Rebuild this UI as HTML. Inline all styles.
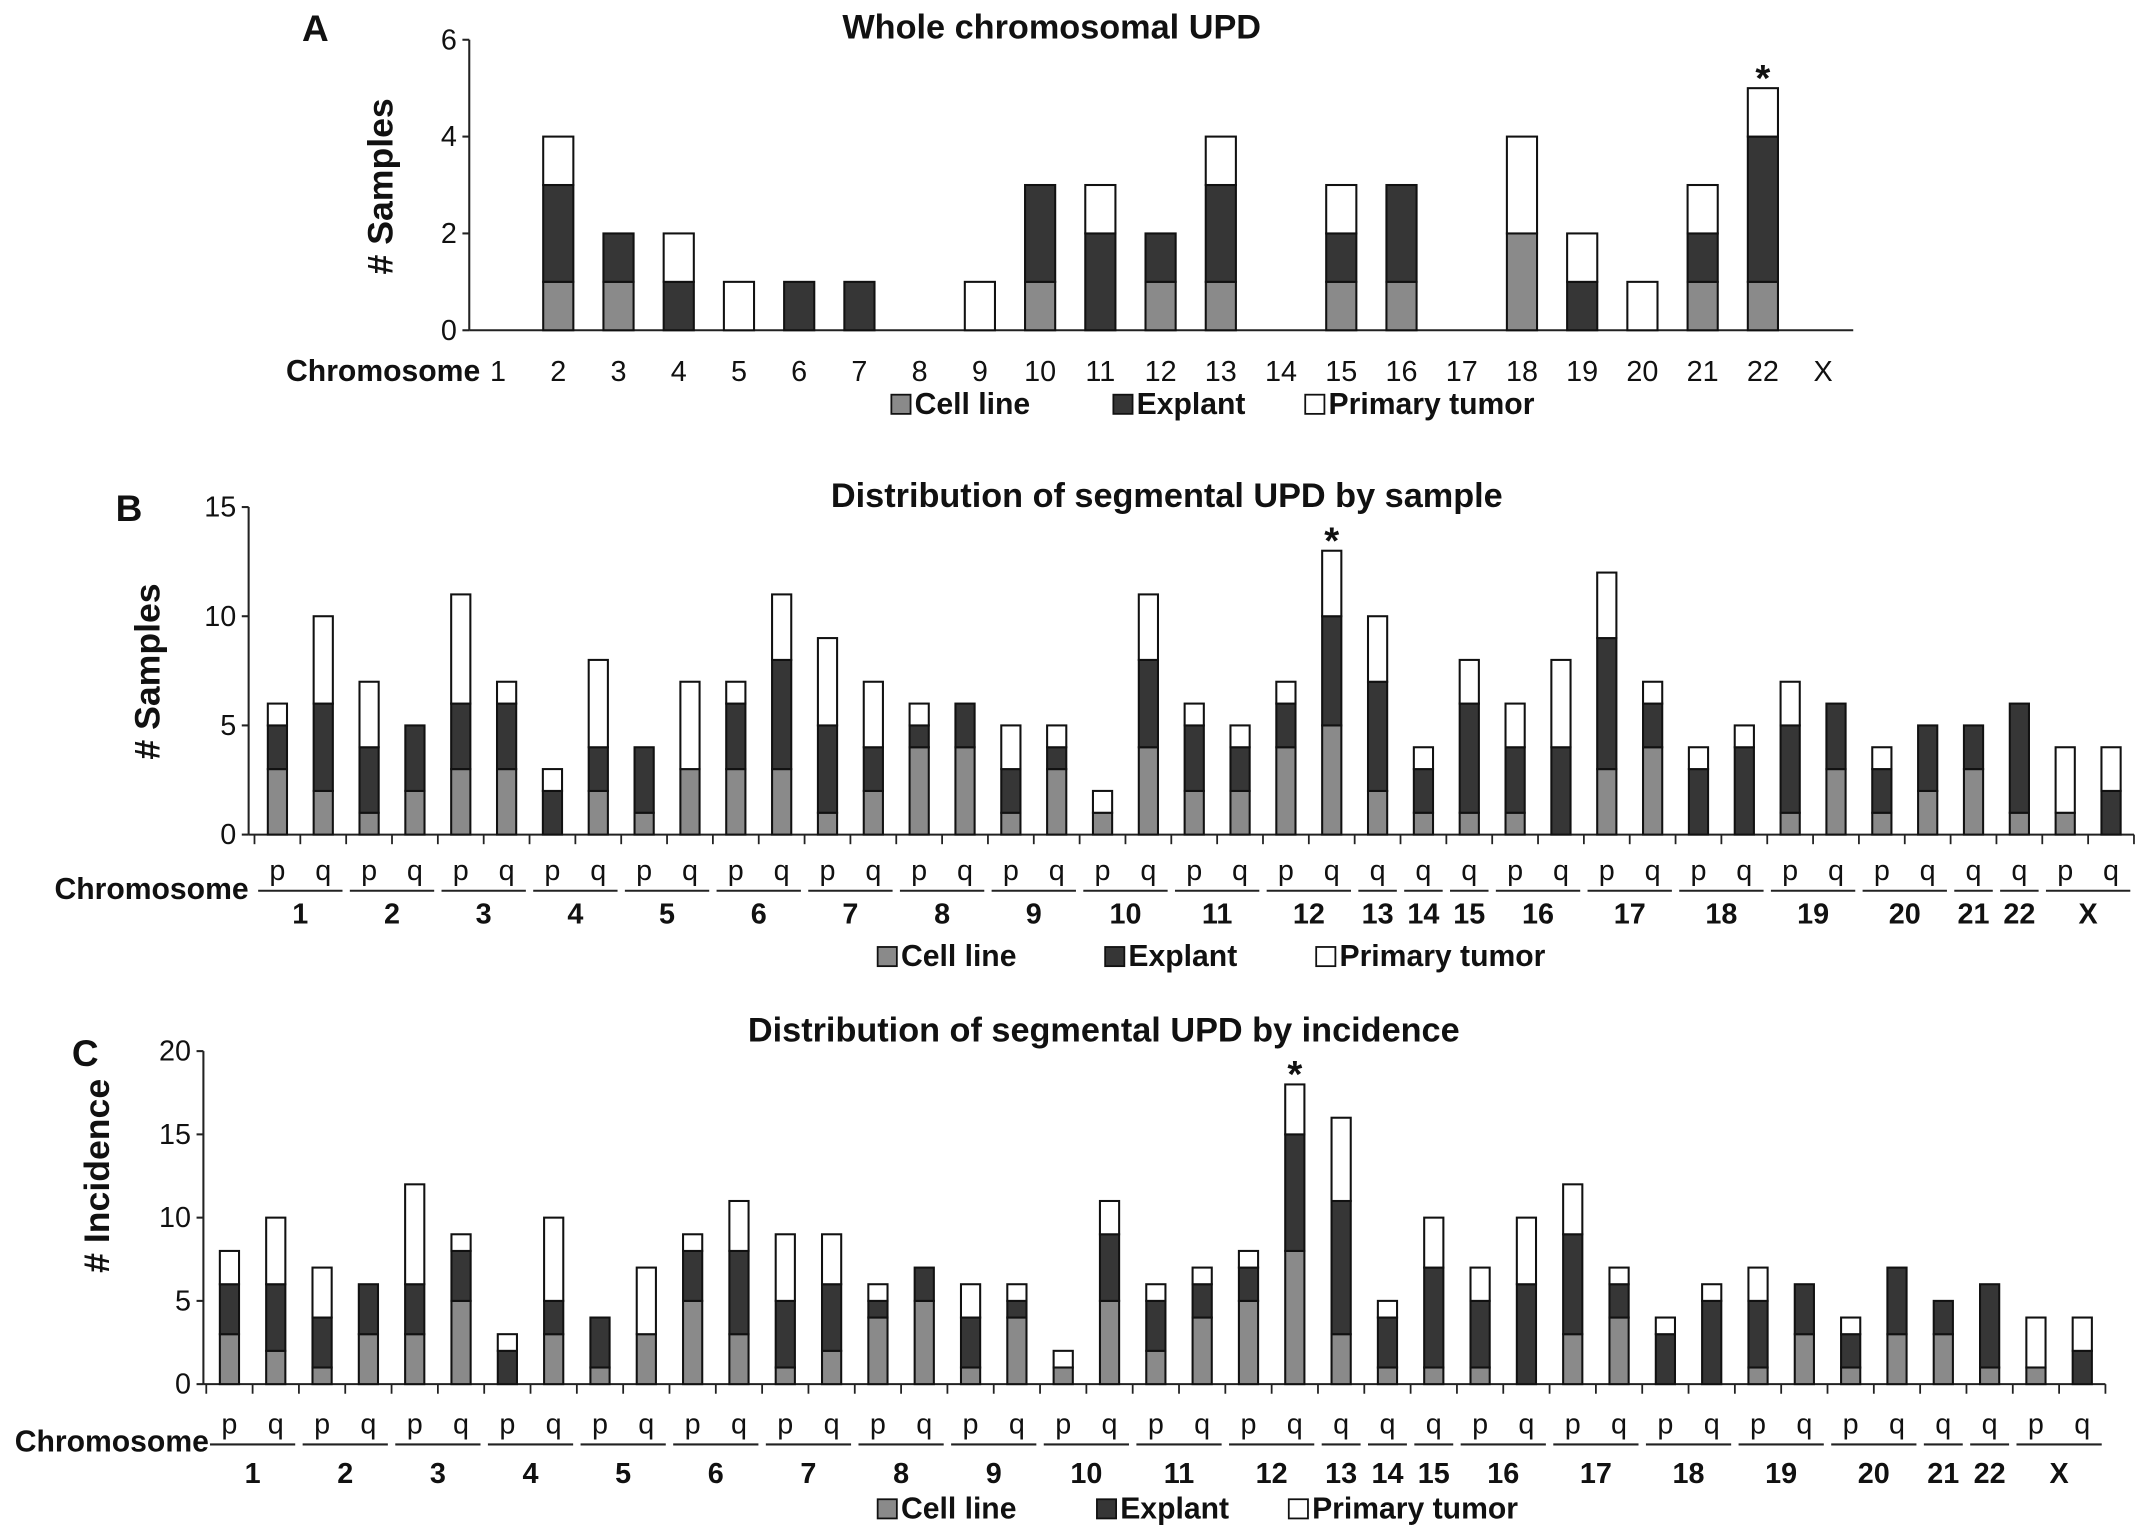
<!DOCTYPE html>
<html><head><meta charset="utf-8"><style>
html,body{margin:0;padding:0;background:#fff}
svg{display:block}
text{font-family:"Liberation Sans",Arial,sans-serif;fill:#111}
</style></head><body>
<svg id="fig" width="2150" height="1539" viewBox="0 0 1568 1123" xmlns="http://www.w3.org/2000/svg"></svg>
<script>
// Panel A data
const aCats = ["1","2","3","4","5","6","7","8","9","10","11","12","13","14","15","16","17","18","19","20","21","22","X"];
const aCell =    [0,1,1,0,0,0,0,0,0,1,0,1,1,0,1,1,0,2,0,0,1,1,0];
const aExplant = [0,2,1,1,0,1,1,0,0,2,2,1,2,0,1,2,0,0,1,0,1,3,0];
const aPrimary = [0,1,0,1,1,0,0,0,1,0,1,0,1,0,1,0,0,2,1,1,1,1,0];
const aTicks = [0,2,4,6];

// Segmental categories (shared by B and C)
const segChr = ["1","1","2","2","3","3","4","4","5","5","6","6","7","7","8","8","9","9","10","10","11","11","12","12","13","14","15","16","16","17","17","18","18","19","19","20","20","21","22","X","X"];
const segArm = ["p","q","p","q","p","q","p","q","p","q","p","q","p","q","p","q","p","q","p","q","p","q","p","q","q","q","q","p","q","p","q","p","q","p","q","p","q","q","q","p","q"];

// Panel B data
const bCell =    [3,2,1,2,3,3,0,2,1,3,3,3,1,2,4,4,1,3,1,4,2,2,4,5,2,1,1,1,0,3,4,0,0,1,3,1,2,3,1,1,0];
const bExplant = [2,4,3,3,3,3,2,2,3,0,3,5,4,2,1,2,2,1,0,4,3,2,2,5,5,2,5,3,4,6,2,3,4,4,3,2,3,2,5,0,2];
const bPrimary = [1,4,3,0,5,1,1,4,0,4,1,3,4,3,1,0,2,1,1,3,1,1,1,3,3,1,2,2,4,3,1,1,1,2,0,1,0,0,0,3,2];
const bTicks = [0,5,10,15];

// Panel C data
const cCell =    [3,2,1,3,3,5,0,3,1,3,5,3,1,2,4,5,1,4,1,5,2,4,5,8,3,1,1,1,0,3,4,0,0,1,3,1,3,3,1,1,0];
const cExplant = [3,4,3,3,3,3,2,2,3,0,3,5,4,4,1,2,3,1,0,4,3,2,2,7,8,3,6,4,6,6,2,3,5,4,3,2,4,2,5,0,2];
const cPrimary = [2,4,3,0,6,1,1,5,0,4,1,3,4,3,1,0,2,1,1,2,1,1,1,3,5,1,3,2,4,3,1,1,1,2,0,1,0,0,0,3,2];
const cTicks = [0,5,10,15,20];

const NS = "http://www.w3.org/2000/svg";
const svg = document.getElementById("fig");
const COL = {cell:"#8a8a8a", exp:"#363636", prim:"#ffffff"};

function mk(tag, attrs, parent, txt){
  const e = document.createElementNS(NS, tag);
  for (const k in attrs) e.setAttribute(k, attrs[k]);
  if (txt !== undefined) e.textContent = txt;
  (parent||svg).appendChild(e);
  return e;
}

function panel(cfg, cats, arms, cell, exp, prim, ticks){
  const g = mk("g", {});
  
  
  const yS = v => cfg.y0 - v * (cfg.y0 - cfg.yTop) / (ticks[ticks.length-1]);
  const xS = i => cfg.x1 + i * cfg.step;
  const n = cats.length;
  const t = mk("text", {x:cfg.titleX, y:cfg.titleY, "text-anchor":"middle", "font-size":25, "font-weight":"bold"}, g, cfg.title);
  
  
  const L = mk("text", {x:cfg.letX, y:cfg.letY, "font-size":27, "font-weight":"bold"}, g, cfg.letter);
  
  
  const yt = mk("text", {x:cfg.ytX, y:cfg.ytY, "text-anchor":"middle", "font-size":26, "font-weight":"bold", transform:`rotate(-90 ${cfg.ytX} ${cfg.ytY})`}, g, cfg.yTitle);
  
  
  const ya = mk("line", {x1:cfg.ax, x2:cfg.ax, y1:yS(ticks[ticks.length-1]), y2:cfg.y0, stroke:"#222", "stroke-width":1.5}, g);
  
  
  ticks.forEach(v=>{
    mk("line", {x1:cfg.ax-5, x2:cfg.ax, y1:yS(v), y2:yS(v), stroke:"#222", "stroke-width":1.5}, g);
    const tl = mk("text", {x:cfg.ax-9, y:yS(v)+7, "text-anchor":"end", "font-size":21}, g, String(v));
    
    
  });
  const xEnd = xS(n-1) + cfg.step/2;
  const xa = mk("line", {x1:cfg.ax, x2:xEnd, y1:cfg.y0, y2:cfg.y0, stroke:"#222", "stroke-width":1.5}, g);
  
  
  if (cfg.xticks){
    for (let i=0;i<=n;i++){
      const x = xS(i) - cfg.step/2;
      mk("line", {x1:x, x2:x, y1:cfg.y0, y2:cfg.y0+7, stroke:"#222", "stroke-width":1.3}, g);
    }
  }
  for (let i=0;i<n;i++){
    const x = xS(i) - cfg.bw/2;
    const segs = [[cell[i],COL.cell,'cell-line'],[exp[i],COL.exp,'explant'],[prim[i],COL.prim,'primary-tumor']];
    let base = 0;
    segs.forEach(s=>{
      if (s[0] > 0){
        const r = mk("rect", {x:x, y:yS(base+s[0]), width:cfg.bw, height:yS(base)-yS(base+s[0]), fill:s[1], stroke:"#111", "stroke-width":1.5}, g);
        
        
      }
      base += s[0];
    });
    if (cfg.star === i){
      const st = mk("text", {x:xS(i), y:yS(base)+2, "text-anchor":"middle", "font-size":28, "font-weight":"bold"}, g, "*");
      
      
    }
  }
  const cl = mk("text", {x:cfg.chrX, y:cfg.chrY, "text-anchor":"end", "font-size":22, "font-weight":"bold"}, g, "Chromosome");
  
  
  if (!arms){
    for (let i=0;i<n;i++){
      const lb = mk("text", {x:xS(i), y:cfg.chrY, "text-anchor":"middle", "font-size":21}, g, cats[i]);
      
      
    }
  } else {
    for (let i=0;i<n;i++){
      const lb = mk("text", {x:xS(i), y:cfg.armY, "text-anchor":"middle", "font-size":21}, g, arms[i]);
      
      
    }
    let i=0;
    while (i<n){
      let j=i; while (j+1<n && cats[j+1]===cats[i]) j++;
      const xa1 = xS(i) - cfg.step*0.42, xa2 = xS(j) + cfg.step*0.42;
      mk("line", {x1:xa1, x2:xa2, y1:cfg.ulY, y2:cfg.ulY, stroke:"#222", "stroke-width":1.5}, g);
      const nl = mk("text", {x:(xS(i)+xS(j))/2, y:cfg.numY, "text-anchor":"middle", "font-size":21, "font-weight":"bold"}, g, cats[i]);
      
      
      i=j+1;
    }
  }
  const lg = mk("g", {}, g);
  
  
  [[COL.cell,"Cell line"],[COL.exp,"Explant"],[COL.prim,"Primary tumor"]].forEach((e,k)=>{
    const x = cfg.leg[k];
    mk("rect", {x:x, y:cfg.legY-14, width:14, height:14, fill:e[0], stroke:"#111", "stroke-width":1.3}, lg);
    const lt = mk("text", {x:x+17, y:cfg.legY, "font-size":22, "font-weight":"bold"}, lg, e[1]);
    
    
  });
}

panel({id:"panel-a", title:"Whole chromosomal UPD", titleX:767, titleY:28, letter:"A", letX:220, letY:30,
  yTitle:"# Samples", ytX:286, ytY:136, ax:342, y0:241, yTop:29, x1:363, step:43.95, bw:22, xticks:false,
  chrX:350, chrY:278, star:21, leg:[650,812,952], legY:302},
  aCats, null, aCell, aExplant, aPrimary, aTicks);

panel({id:"panel-b", title:"Distribution of segmental UPD by sample", titleX:851, titleY:370, letter:"B", letX:84, letY:380,
  yTitle:"# Samples", ytX:116, ytY:490, ax:181, y0:609, yTop:370, x1:202, step:33.45, bw:14, xticks:true,
  chrX:181, chrY:656, armY:642, ulY:650, numY:674, star:23, leg:[640,806,960], legY:705},
  segChr, segArm, bCell, bExplant, bPrimary, bTicks);

panel({id:"panel-c", title:"Distribution of segmental UPD by incidence", titleX:805, titleY:760, letter:"C", letX:52, letY:778,
  yTitle:"# Incidence", ytX:79, ytY:858, ax:148, y0:1010, yTop:767, x1:167, step:33.8, bw:14, xticks:true,
  chrX:152, chrY:1059, armY:1046, ulY:1054, numY:1082, star:23, leg:[640,800,940], legY:1108},
  segChr, segArm, cCell, cExplant, cPrimary, cTicks);
</script>
</body></html>
